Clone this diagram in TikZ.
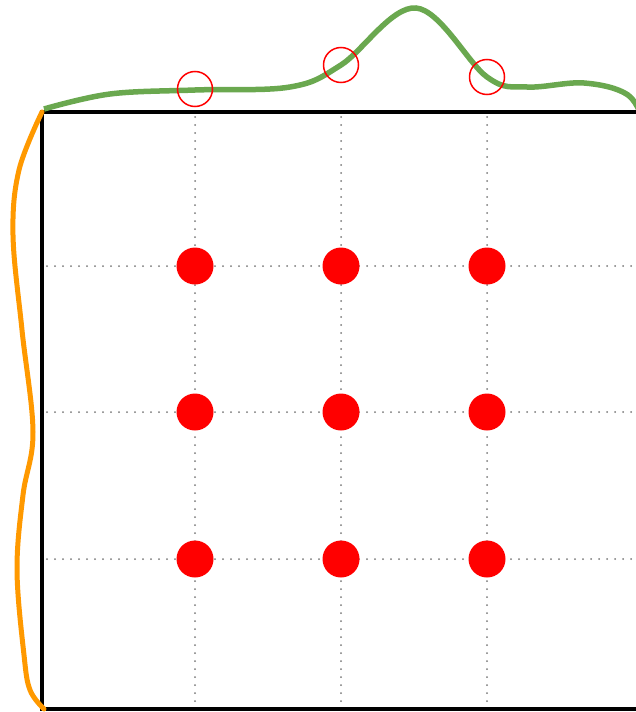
\documentclass[tikz,border=0pt]{standalone}
\begin{document}
\begin{tikzpicture}[x=1pt,y=-1pt,
  dotc/.style={circle,fill=red,draw=none,minimum size=37pt,inner sep=0pt},
  ringc/.style={circle,draw=red,line width=1.5pt,minimum size=35pt,inner sep=0pt},
  gridl/.style={draw={rgb,255:red,120;green,120;blue,120},line width=2pt,line cap=round,dash pattern=on 0pt off 8pt}]
\useasboundingbox (0,0) rectangle (636,712);
\clip (0,0) rectangle (636,712);
% grid
\foreach \v in {195,341,487}{
  \draw[gridl] (\v,117) -- (\v,709);
}
\foreach \h in {266,412,559}{
  \draw[gridl] (47,\h) -- (640,\h);
}
% box
\coordinate (tl) at (42,112);
\coordinate (bl) at (42,709);
\draw[line width=3.5pt] (660,112) -- (tl) -- (bl) -- (660,709);
% dots
\node[dotc] (d11) at (195,266) {};
\node[dotc] (d12) at (341,266) {};
\node[dotc] (d13) at (487,266) {};
\node[dotc] (d21) at (195,412) {};
\node[dotc] (d22) at (341,412) {};
\node[dotc] (d23) at (487,412) {};
\node[dotc] (d31) at (195,559) {};
\node[dotc] (d32) at (341,559) {};
\node[dotc] (d33) at (487,559) {};
% green curve
\draw[color={rgb,255:red,106;green,168;blue,79},line width=5.5pt]
  plot[smooth,tension=0.6] coordinates {(44,109) (110,94) (195,90) (290,87) (341,65) (416,8) (487,77) (527,87) (584,83) (628,95) (645,125)};
% rings
\node[ringc] (r1) at (195,89) {};
\node[ringc] (r2) at (341,65) {};
\node[ringc] (r3) at (487,77) {};
% orange curve
\draw[color={rgb,255:red,255;green,153;blue,0},line width=5pt,line cap=round]
  plot[smooth,tension=0.6] coordinates {(42,112) (19,170) (13,235) (22,330) (33,432) (23,495) (17,570) (24,655) (30,690) (44,709)};
\end{tikzpicture}
\end{document}
